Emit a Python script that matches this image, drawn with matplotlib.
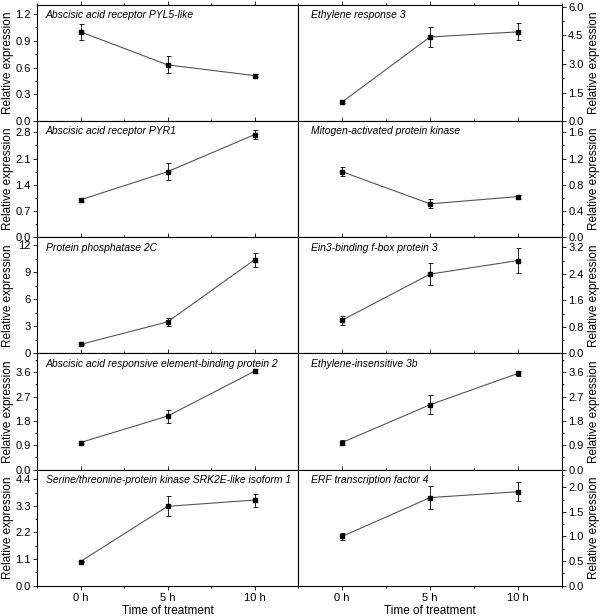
import matplotlib
matplotlib.use("Agg")
import matplotlib.pyplot as plt
from matplotlib.ticker import MultipleLocator, FormatStrFormatter

plt.rcParams['font.family'] = ['Liberation Sans', 'DejaVu Sans']

times = [0, 5, 10]
time_labels = ["0 h", "5 h", "10 h"]

titles_left = [
    "Abscisic acid receptor PYL5-like",
    "Abscisic acid receptor PYR1",
    "Protein phosphatase 2C",
    "Abscisic acid responsive element-binding protein 2",
    "Serine/threonine-protein kinase SRK2E-like isoform 1",
]
titles_right = [
    "Ethylene response 3",
    "Mitogen-activated protein kinase",
    "Ein3-binding f-box protein 3",
    "Ethylene-insensitive 3b",
    "ERF transcription factor 4",
]

# left column series (mean, error)
pyl5 = [1.00, 0.63, 0.51]
pyl5_err = [0.09, 0.095, 0.015]
pyr1 = [1.00, 1.75, 2.74]
pyr1_err = [0.05, 0.22, 0.12]
pp2c = [1.00, 3.50, 10.40]
pp2c_err = [0.10, 0.40, 0.78]
abre = [1.00, 1.98, 3.64]
abre_err = [0.04, 0.24, 0.08]
srk2e = [1.00, 3.28, 3.54]
srk2e_err = [0.03, 0.42, 0.27]

# right column series (mean, error)
er3 = [1.00, 4.42, 4.69]
er3_err = [0.05, 0.53, 0.45]
mapk = [1.00, 0.51, 0.62]
mapk_err = [0.07, 0.07, 0.03]
ebf3 = [1.00, 2.39, 2.80]
ebf3_err = [0.13, 0.33, 0.37]
ein3b = [1.00, 2.40, 3.56]
ein3b_err = [0.08, 0.35, 0.10]
erf4 = [1.00, 1.79, 1.91]
erf4_err = [0.07, 0.23, 0.19]

left_means = [pyl5, pyr1, pp2c, abre, srk2e]
left_errs = [pyl5_err, pyr1_err, pp2c_err, abre_err, srk2e_err]
right_means = [er3, mapk, ebf3, ein3b, erf4]
right_errs = [er3_err, mapk_err, ebf3_err, ein3b_err, erf4_err]

# axis ranges and tick steps
left_ytop = [1.30, 3.10, 12.9, 4.30, 4.80]
left_ystep = [0.3, 0.7, 3, 0.9, 1.1]
left_yfmt = ['%.1f', '%.1f', '%d', '%.1f', '%.1f']
right_ytop = [6.1, 1.77, 3.50, 4.30, 2.36]
right_ystep = [1.5, 0.4, 0.8, 0.9, 0.5]
right_yfmt = ['%.1f'] * 5

W, H = 600, 616
fig = plt.figure(figsize=(W / 100, H / 100), dpi=100)

top_px = 5.0
bot_px = 585.7
row_h = (bot_px - top_px) / 5
cols = [(37.0, 261.0), (298.0, 264.0)]

line_color = '#555555'

for c, (x0, w) in enumerate(cols):
    means = left_means if c == 0 else right_means
    errs = left_errs if c == 0 else right_errs
    titles = titles_left if c == 0 else titles_right
    ytops = left_ytop if c == 0 else right_ytop
    ysteps = left_ystep if c == 0 else right_ystep
    yfmts = left_yfmt if c == 0 else right_yfmt
    for r in range(5):
        y_top = top_px + r * row_h
        ax = fig.add_axes([x0 / W, 1 - (y_top + row_h) / H, w / W, row_h / H])
        ax.plot(times, means[r], color=line_color, lw=0.8, zorder=2)
        ax.errorbar(times, means[r], yerr=errs[r], fmt='s', color='black',
                    ms=3.5, ecolor='black', elinewidth=0.6, capsize=1.8,
                    capthick=0.6, zorder=3)
        ax.set_xlim(-2.5, 12.5)
        ax.set_ylim(0, ytops[r])
        ax.xaxis.set_major_locator(MultipleLocator(5))
        ax.xaxis.set_minor_locator(MultipleLocator(2.5))
        ax.yaxis.set_major_locator(MultipleLocator(ysteps[r]))
        ax.yaxis.set_minor_locator(MultipleLocator(ysteps[r] / 2))
        ax.yaxis.set_major_formatter(FormatStrFormatter(yfmts[r]))
        for s in ax.spines.values():
            s.set_linewidth(0.8)
            s.set_color('black')
        ax.tick_params(which='major', direction='out', length=3, width=0.6,
                       labelsize=8, pad=1.5)
        ax.tick_params(which='minor', direction='out', length=1.6, width=0.6)
        ax.tick_params(axis='x', top=True, which='both')
        if c == 0:
            ax.tick_params(axis='y', left=True, right=False, which='both')
            ax.set_ylabel('Relative expression', fontsize=8.5)
            ax.yaxis.set_label_coords(-0.09, 0.5)
        else:
            ax.yaxis.tick_right()
            ax.tick_params(axis='y', left=False, right=True, which='both')
            ax.yaxis.set_label_position('right')
            ax.set_ylabel('Relative expression', fontsize=8.5, rotation=90)
            ax.yaxis.set_label_coords(1.1, 0.5)
        if r == 4:
            ax.set_xticks(times)
            ax.set_xticklabels(time_labels)
            ax.tick_params(axis='x', labelsize=8, pad=2)
            ax.set_xlabel('Time of treatment', fontsize=8.5, labelpad=2)
        else:
            ax.tick_params(axis='x', labelbottom=False)
        tx = 0.034 if c == 0 else 0.049
        ax.text(tx, 0.912, titles[r], transform=ax.transAxes, fontsize=7.5,
                style='italic', va='center', ha='left')

fig.savefig('out.png', dpi=100)
